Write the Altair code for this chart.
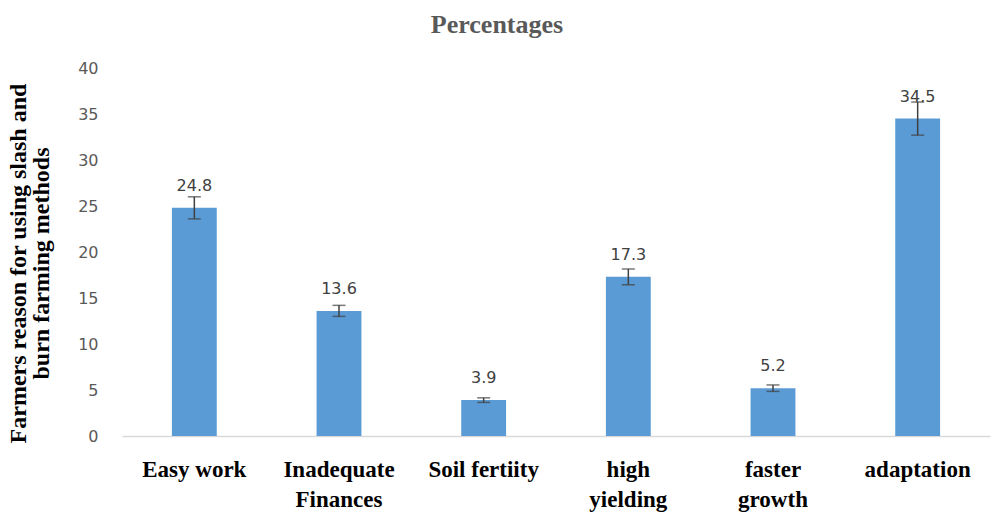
import altair as alt
import pandas as pd

categories = ["Easy work", "Inadequate Finances", "Soil fertiity", "high yielding", "faster growth", "adaptation"]
values = [24.8, 13.6, 3.9, 17.3, 5.2, 34.5]
errors = [1.2, 0.6, 0.25, 0.85, 0.35, 1.8]
value_labels = ["24.8", "13.6", "3.9", "17.3", "5.2", "34.5"]

df = pd.DataFrame({
    "cat": categories,
    "val": values,
    "lo": [v - e for v, e in zip(values, errors)],
    "hi": [v + e for v, e in zip(values, errors)],
    "lab": value_labels,
})

two_line = ["Inadequate Finances", "high yielding", "faster growth"]
label_expr = "indexof(" + str(two_line) + ", datum.label) >= 0 ? split(datum.label, ' ') : datum.label"

x = alt.X("cat:N", sort=categories, title=None,
          scale=alt.Scale(paddingInner=0.69, paddingOuter=0.345),
          axis=alt.Axis(labelAngle=0, ticks=False, domainColor="#d9d9d9", domainWidth=1.5,
                        labelFont="Liberation Serif", labelFontWeight="bold", labelFontSize=23,
                        labelColor="#000000", labelPadding=22, labelLineHeight=30,
                        labelExpr=label_expr, labelLimit=0))

y_axis = alt.Axis(values=[0, 5, 10, 15, 20, 25, 30, 35, 40], ticks=False, domain=False, grid=False,
                  labelFont="DejaVu Sans", labelFontSize=16, labelColor="#595959", labelPadding=24,
                  title=["Farmers reason for using slash and", "burn farming methods"],
                  titleFont="Liberation Serif", titleFontWeight="bold", titleFontSize=24,
                  titleColor="#000000", titleLineHeight=23, titleAngle=270,
                  titleX=-104, titleY=195, titleAlign="center", titleBaseline="middle")

base = alt.Chart(df)

bars = base.mark_bar(color="#5b9bd5").encode(
    x=x,
    y=alt.Y("val:Q", scale=alt.Scale(domain=[0, 40]), axis=y_axis),
)

rule = base.mark_rule(color="#404040", strokeWidth=1.5).encode(
    x=alt.X("cat:N", sort=categories), y="lo:Q", y2="hi:Q")
caps_hi = base.mark_tick(color="#404040", size=13, thickness=1.5).encode(
    x=alt.X("cat:N", sort=categories), y="hi:Q")
caps_lo = base.mark_tick(color="#404040", size=13, thickness=1.5).encode(
    x=alt.X("cat:N", sort=categories), y="lo:Q")

text = base.mark_text(font="DejaVu Sans", fontSize=16, color="#404040", baseline="bottom", dy=-14).encode(
    x=alt.X("cat:N", sort=categories), y="val:Q", text="lab:N")

chart = alt.layer(bars, rule, caps_hi, caps_lo, text).properties(
    width=868, height=368,
    title=alt.TitleParams("Percentages", font="Liberation Serif", fontSize=26, fontWeight="bold",
                          color="#595959", anchor="middle", frame="group", dx=-59, offset=22),
    autosize=alt.AutoSizeParams(type="none"),
    padding={"left": 122, "top": 68, "right": 4, "bottom": 82},
).configure_view(stroke=None)

chart.save("out.html", embed_options={"renderer": "svg", "actions": False})
